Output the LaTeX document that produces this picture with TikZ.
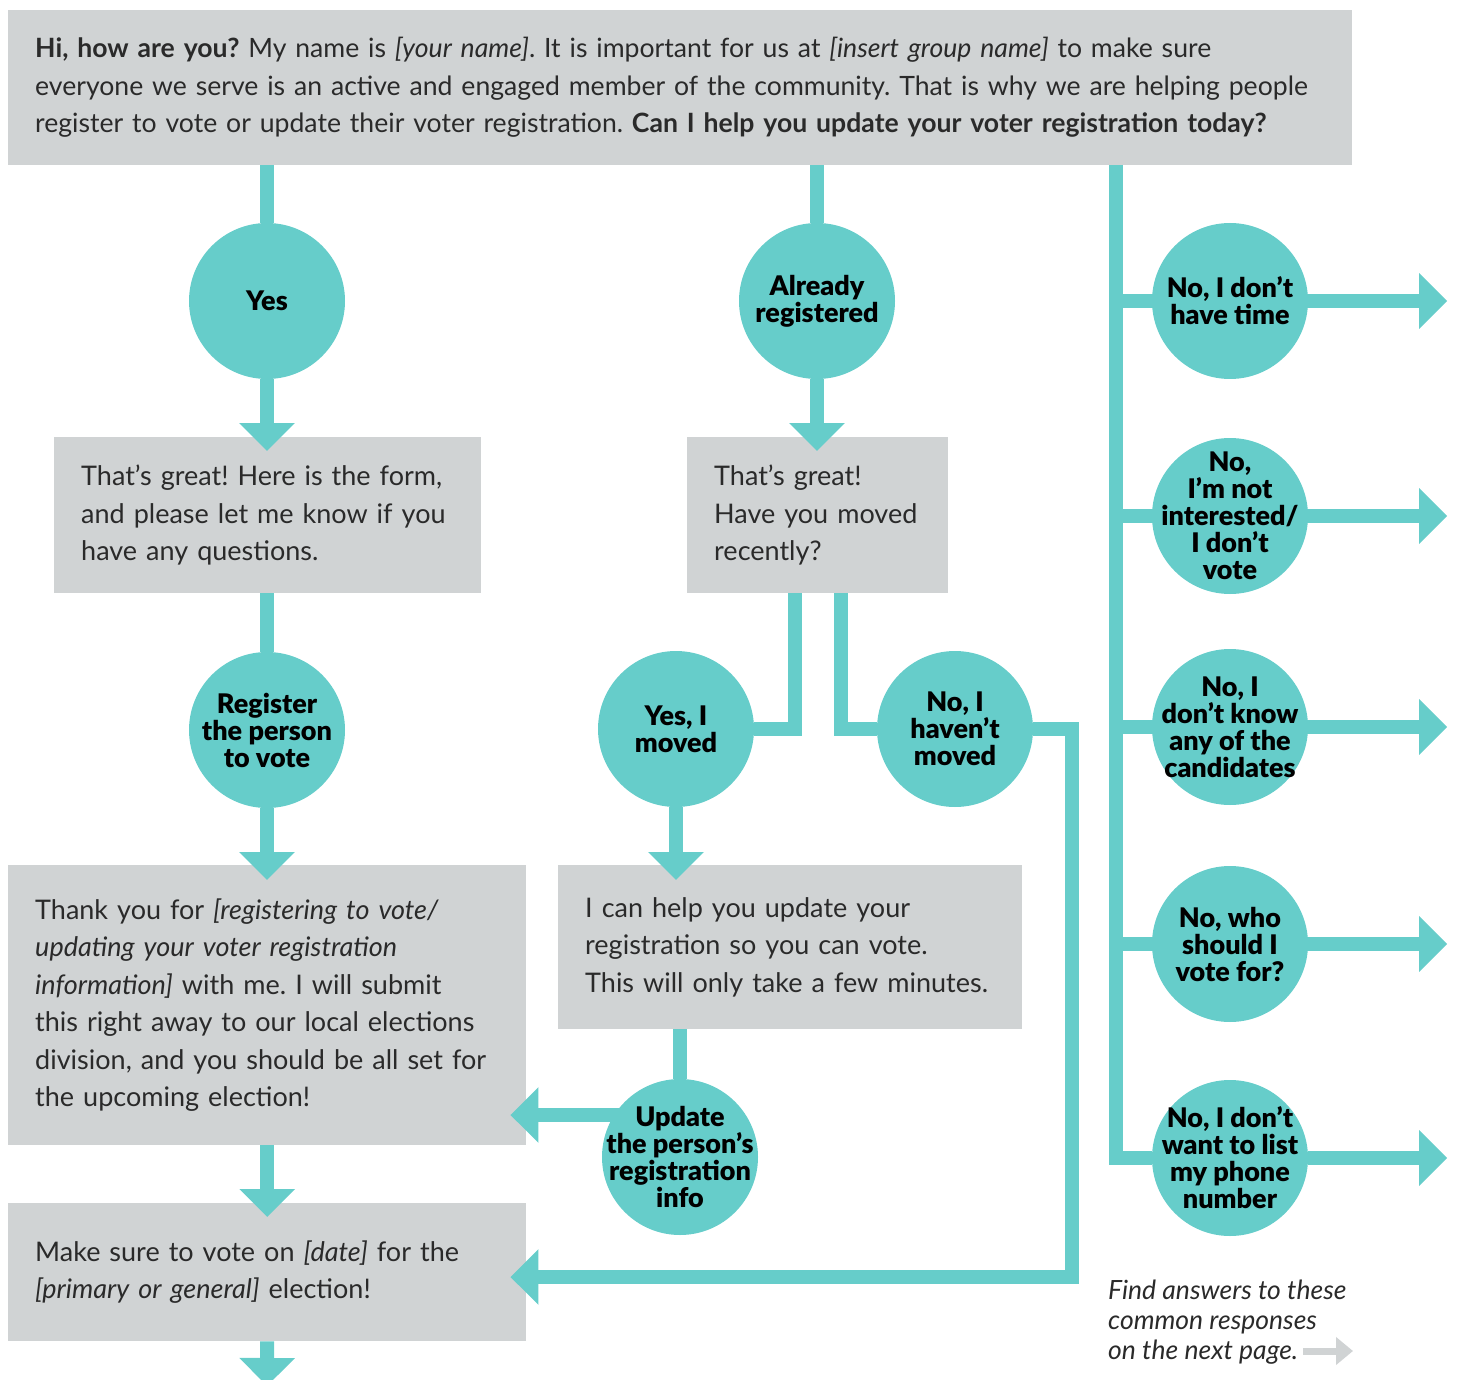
\documentclass[tikz,border=0pt]{standalone}
\usepackage{fontspec}
\setmainfont{Lato}
\newfontfamily\bubblefont{Lato Black}
\usepackage{xcolor}
\usetikzlibrary{arrows.meta, calc}

\definecolor{voteTeal}{HTML}{66CDCA}
\definecolor{boxGray}{HTML}{D0D3D4}
\definecolor{noteGray}{HTML}{2A2A2A}

\pgfdeclarelayer{bg}
\pgfdeclarelayer{links}
\pgfsetlayers{bg,links,main}

\begin{document}
\frenchspacing
\begin{tikzpicture}[
    x=1pt, y=-1pt,
    box/.style={fill=boxGray, anchor=north west, align=left, inner xsep=27pt, inner ysep=0pt,
      text=noteGray, font=\fontsize{27}{37.5}\selectfont},
    bubble/.style={circle, fill=voteTeal, minimum size=156pt, inner sep=-25pt, align=center,
      font=\fontsize{27}{27}\bubblefont},
    link/.style={draw=voteTeal, line width=14pt},
    >={Triangle[length=28pt, width=54pt]}
  ]
    \useasboundingbox (0,0) rectangle (1460,1380);

    % grey text boxes
    \begin{pgfonlayer}{bg}
    \node[box, text width=1290pt, minimum height=155pt, font=\fontsize{26.6}{37.5}\selectfont] (intro) at (8,10)
      {\textbf{Hi, how are you?} My name is \textit{[your name]}. It is important for us at \textit{[insert group name]} to make sure\\
       everyone we serve is an active and engaged member of the community. That is why we are helping people\\
       register to vote or update their voter registration. \textbf{Can I help you update your voter registration today?}};
    \node[box, text width=373pt, minimum height=156pt] (formBox) at (54,437)
      {That’s great! Here is the form,\\ and please let me know if you\\ have any questions.};
    \node[box, text width=207pt, minimum height=156pt] (movedQ) at (687,437)
      {That’s great!\\ Have you moved\\ recently?};
    \node[box, text width=464pt, minimum height=280pt] (thanksBox) at (8,865)
      {Thank you for \textit{[registering to vote/}\\ \textit{updating your voter registration}\\
       \textit{information]} with me. I will submit\\ this right away to our local elections\\
       division, and you should be all set for\\ the upcoming election!};
    \node[box, text width=410pt, minimum height=164pt] (helpBox) at (558,865)
      {I can help you update your\\ registration so you can vote.\\ This will only take a few minutes.};
    \node[box, text width=464pt, minimum height=138pt] (dateBox) at (8,1203)
      {Make sure to vote on \textit{[date]} for the\\ \textit{[primary or general]} election!};
    \end{pgfonlayer}

    % answer bubbles
    \node[bubble] (yes) at (267,301) {Yes};
    \node[bubble] (already) at (817,301) {Already\\registered};
    \node[bubble] (register) at (267,730) {Register\\the person\\to vote};
    \node[bubble] (moved) at (676,729) {Yes, I\\moved};
    \node[bubble] (notMoved) at (955,729) {No, I\\haven’t\\moved};
    \node[bubble] (update) at (680,1157) {Update\\the person’s\\registration\\info};

    \node[bubble] (noTime) at (1230,301) {No, I don’t\\have time};
    \node[bubble] (noInterest) at (1230,516) {No,\\I’m not\\interested/\\I don’t\\vote};
    \node[bubble] (noKnow) at (1230,727) {No, I\\don’t know\\any of the\\candidates};
    \node[bubble] (noWho) at (1230,944) {No, who\\should I\\vote for?};
    \node[bubble] (noPhone) at (1230,1158) {No, I don’t\\want to list\\my phone\\number};

    \node[anchor=north west, inner sep=0pt, align=left, text=noteGray,
      font=\fontsize{26.5}{30}\selectfont\itshape] (note) at (1108,1280)
      {Find answers to these\\ common responses\\ on the next page.};
    \coordinate (noteStart) at (1303,1351);
    \coordinate (noteEnd) at (1353,1351);
    \coordinate (spine) at (1116,165);
    \coordinate (lateTurn) at (1072,1277);
    \coordinate (nextPage) at (267,1386);

    % connectors
    \begin{pgfonlayer}{links}
    \draw[link] (yes |- intro.south) -- (yes);
    \draw[link, ->] (yes) -- ([yshift=-14pt]yes |- formBox.north);
    \draw[link] (register |- formBox.south) -- (register);
    \draw[link, ->] (register) -- ([yshift=-15pt]register |- thanksBox.north);
    \draw[link, ->] (thanksBox.south) -- ([yshift=-14pt]dateBox.north);
    \draw[link, ->] (dateBox.south) -- (nextPage);

    \draw[link] (already |- intro.south) -- (already);
    \draw[link, ->] (already) -- ([yshift=-14pt]already |- movedQ.north);
    \draw[link] ([xshift=-23pt]movedQ.south) |- (moved);
    \draw[link] ([xshift=23pt]movedQ.south) |- (notMoved);
    \draw[link, ->] (moved) -- ([yshift=-15pt]moved |- helpBox.north);
    \draw[link] (update |- helpBox.south) -- (update);
    \draw[link, ->] ($(update.center)+(0,-42)$) -- ($(thanksBox.east |- update.center)+(-16,-42)$);
    \draw[link, ->] (notMoved) -| (lateTurn) -- ([xshift=-16pt]dateBox.east |- lateTurn);

    \draw[link] (spine) |- (noPhone);
    \draw[link, ->] (spine |- noTime) -- ([xshift=139pt]noTime.east);
    \draw[link, ->] (spine |- noInterest) -- ([xshift=139pt]noInterest.east);
    \draw[link, ->] (spine |- noKnow) -- ([xshift=139pt]noKnow.east);
    \draw[link, ->] (spine |- noWho) -- ([xshift=139pt]noWho.east);
    \draw[link, ->] (noPhone) -- ([xshift=139pt]noPhone.east);

    \draw[boxGray, line width=7pt, -{Triangle[length=17pt, width=27pt]}] (noteStart) -- (noteEnd);
    \end{pgfonlayer}
  \end{tikzpicture}
\end{document}
